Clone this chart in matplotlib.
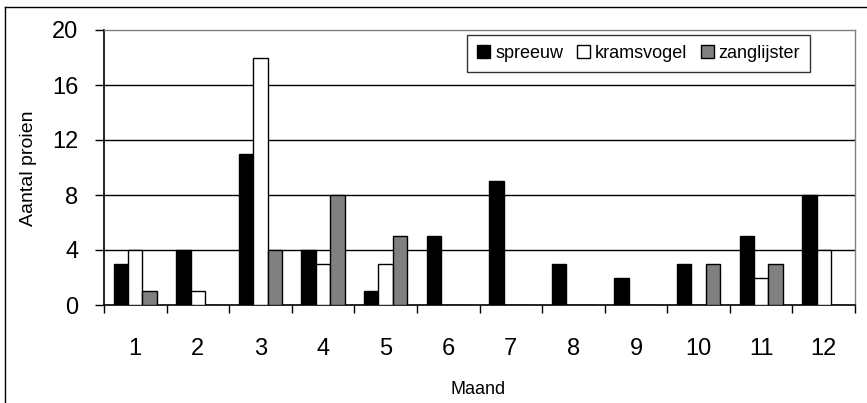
import matplotlib
matplotlib.use("Agg")
import matplotlib.pyplot as plt
import numpy as np
from matplotlib.lines import Line2D
from matplotlib.patches import Patch

months = [1, 2, 3, 4, 5, 6, 7, 8, 9, 10, 11, 12]
month_labels = ["1", "2", "3", "4", "5", "6", "7", "8", "9", "10", "11", "12"]
spreeuw = [3, 4, 11, 4, 1, 5, 9, 3, 2, 3, 5, 8]
kramsvogel = [4, 1, 18, 3, 3, 0, 0, 0, 0, 0, 2, 4]
zanglijster = [1, 0, 4, 8, 5, 0, 0, 0, 0, 3, 3, 0]
series_names = ["spreeuw", "kramsvogel", "zanglijster"]
y_ticks = [0, 4, 8, 12, 16, 20]

plt.rcParams['font.family'] = ['Liberation Sans', 'DejaVu Sans']

W, H = 867, 403
fig = plt.figure(figsize=(W / 100, H / 100), dpi=100)
ax = fig.add_axes([104 / W, 1 - 305 / H, (855 - 104) / W, (305 - 30) / H])

x = np.array(months, dtype=float)
bw = 0.23
colors = ["black", "white", "#808080"]
for i, (vals, c) in enumerate(zip([spreeuw, kramsvogel, zanglijster], colors)):
    ax.bar(x + (i - 1) * bw, vals, width=bw, color=c, edgecolor="black",
           linewidth=1.0, zorder=3)

ax.set_xlim(0.5, 12.5)
ax.set_ylim(0, 20)

# gridlines
for yv in y_ticks[1:-1]:
    ax.axhline(yv, color="black", linewidth=1.0, zorder=1)

ax.set_yticks(y_ticks)
ax.set_yticklabels([str(v) for v in y_ticks], fontsize=17)
ax.tick_params(axis="y", direction="out", length=6.5, width=1, pad=12)

ax.set_xticks(x)
ax.set_xticklabels(month_labels, fontsize=17)
ax.tick_params(axis="x", which="major", length=0, pad=24)
ax.set_xticks(np.arange(0.5, 13.0, 1.0), minor=True)
ax.tick_params(axis="x", which="minor", direction="out", length=6, width=1)

for s in ["left", "bottom"]:
    ax.spines[s].set_color("black")
    ax.spines[s].set_linewidth(1.2)
for s in ["top", "right"]:
    ax.spines[s].set_color("#808080")
    ax.spines[s].set_linewidth(1.0)

fig.text(29 / W, 1 - 168 / H, "Aantal proien", rotation=90, ha="center",
         va="center", fontsize=14)
fig.text(478 / W, 1 - 389 / H, "Maand", ha="center", va="center", fontsize=13)

handles = [Patch(facecolor=c, edgecolor="black", linewidth=1.0) for c in colors]
leg = fig.legend(handles, series_names, loc="upper right",
                 bbox_to_anchor=(810 / W, 1 - 35 / H), ncol=3, fontsize=13,
                 frameon=True, fancybox=False, edgecolor="black",
                 handlelength=0.75, handleheight=0.75, handletextpad=0.25,
                 columnspacing=0.75, borderpad=0.55, borderaxespad=0)
leg.get_frame().set_linewidth(1.0)

# outer chart-area frame (top and left edges visible)
fig.add_artist(Line2D([5 / W, 1.0], [1 - 7 / H, 1 - 7 / H], color="black",
                      linewidth=1.0, transform=fig.transFigure))
fig.add_artist(Line2D([5 / W, 5 / W], [0.0, 1 - 7 / H], color="black",
                      linewidth=1.0, transform=fig.transFigure))

fig.savefig("out.png", dpi=100)
